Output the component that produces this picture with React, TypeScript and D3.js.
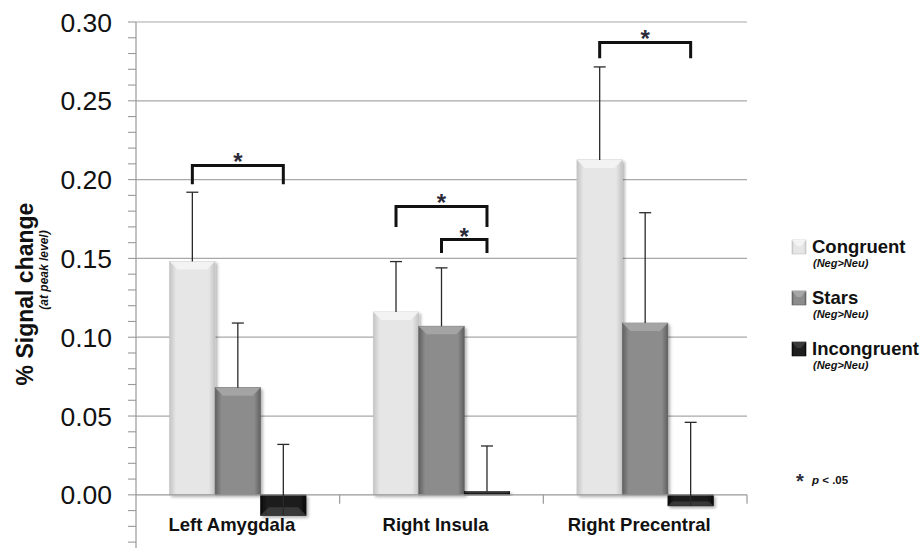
import * as d3 from 'd3';

const categories = ['Left Amygdala', 'Right Insula', 'Right Precentral'];
const seriesNames = ['Congruent', 'Stars', 'Incongruent'];
const congruent = [0.148, 0.116, 0.2125];
const stars = [0.068, 0.107, 0.109];
const incongruent = [-0.013, 0.002, -0.007];
const congruentSE = [0.044, 0.032, 0.059];
const starsSE = [0.041, 0.037, 0.070];
const incongruentSE = [0.045, 0.029, 0.053];
const yTicks = [0, 0.05, 0.1, 0.15, 0.2, 0.25, 0.3];

// significance brackets: category, from series, to series, top, leg end
const bracketCategory = [0, 1, 1, 2];
const bracketFrom = [0, 0, 1, 0];
const bracketTo = [2, 2, 2, 2];
const bracketTop = [0.209, 0.183, 0.162, 0.287];
const bracketLeg = [0.197, 0.170, 0.1535, 0.277];

const W = 922;
const H = 548;
const margin = { left: 136, right: 175, top: 22 };

const palette = [
  { mid: '#e6e6e6', edge: '#c4c4c4', top: '#f4f4f4' },
  { mid: '#8c8c8c', edge: '#606060', top: '#a6a6a6' },
  { mid: '#1e1e1e', edge: '#080808', top: '#3a3a3a' },
];

const FONT = '"Liberation Sans", Arial, Helvetica, sans-serif';

export default function App() {
  const values = [congruent, stars, incongruent];
  const errors = [congruentSE, starsSE, incongruentSE];

  const y = d3.scaleLinear().domain([-0.035, 0.3]).range([550, margin.top]);
  const x0 = d3.scaleBand().domain(categories).range([margin.left, W - margin.right]).padding(0);
  const bw = x0.bandwidth();
  const gw = bw * 0.67;
  const x1 = d3.scaleBand().domain(seriesNames).range([(bw - gw) / 2, (bw + gw) / 2]).padding(0);
  const barW = x1.bandwidth();

  const minor = d3.range(-3, 31).map((i) => i / 100);
  const axisX = margin.left;
  const xEnd = W - margin.right;
  const zero = y(0);

  const barShape = (bx: number, v: number, s: number, key: string) => {
    const yv = y(v);
    const top = Math.min(yv, zero);
    const h = Math.max(Math.abs(yv - zero), 2.5);
    const b = Math.min(8, h / 2.5, barW / 5);
    const c = palette[s];
    const up = v >= 0;
    const endY = up ? top : top + h;
    const innerY = up ? top + b : top + h - b;
    const face = `M${bx},${endY} L${bx + barW},${endY} L${bx + barW - b},${innerY} L${bx + b},${innerY} Z`;
    return (
      <g key={key} filter="url(#shadow)">
        <rect x={bx} y={top} width={barW} height={h} fill={`url(#grad${s})`} stroke={c.edge} strokeWidth={0.6} />
        <path d={face} fill={c.top} opacity={0.9} />
      </g>
    );
  };

  return (
    <svg width={W} height={H} style={{ position: 'absolute', left: 0, top: 0, background: '#fff' }} fontFamily={FONT}>
      <defs>
        {palette.map((c, i) => (
          <linearGradient key={i} id={`grad${i}`} x1="0" x2="1" y1="0" y2="0">
            <stop offset="0" stopColor={c.edge} />
            <stop offset="0.14" stopColor={c.mid} />
            <stop offset="0.86" stopColor={c.mid} />
            <stop offset="1" stopColor={c.edge} />
          </linearGradient>
        ))}
        <filter id="shadow" x="-20%" y="-20%" width="150%" height="150%">
          <feDropShadow dx="2" dy="2" stdDeviation="1.6" floodColor="#000" floodOpacity="0.3" />
        </filter>
      </defs>

      {/* gridlines */}
      {yTicks.filter((t) => t > 0).map((t) => (
        <line key={t} x1={axisX} x2={xEnd} y1={y(t)} y2={y(t)} stroke="#a8a8a8" strokeWidth={1.2} />
      ))}

      {/* y axis */}
      <line x1={axisX} x2={axisX} y1={y(0.3)} y2={H} stroke="#999" strokeWidth={1.2} />
      {minor.map((t) => (
        <line key={t} x1={axisX - 8} x2={axisX} y1={y(t)} y2={y(t)} stroke="#999" strokeWidth={1.1} />
      ))}
      {yTicks.map((t) => (
        <text key={t} x={112} y={y(t)} dy="0.36em" textAnchor="end" fontSize={26.5} fill="#111">
          {t.toFixed(2)}
        </text>
      ))}

      {/* bars */}
      {categories.map((cat, ci) =>
        seriesNames.map((sn, si) => barShape(x0(cat)! + x1(sn)!, values[si][ci], si, `${cat}-${sn}`))
      )}

      {/* x axis */}
      <line x1={axisX} x2={xEnd} y1={zero} y2={zero} stroke="#999" strokeWidth={1.2} />
      {categories.map((cat) => (
        <line key={cat} x1={x0(cat)! + bw} x2={x0(cat)! + bw} y1={zero} y2={zero + 9} stroke="#999" strokeWidth={1.2} />
      ))}

      {/* error bars */}
      {categories.map((cat, ci) =>
        seriesNames.map((sn, si) => {
          const cx = x0(cat)! + x1(sn)! + barW / 2;
          const v = values[si][ci];
          const e = v + errors[si][ci];
          return (
            <g key={`e-${cat}-${sn}`} stroke="#2a2a2a" strokeWidth={1.3}>
              <line x1={cx} x2={cx} y1={y(v)} y2={y(e)} />
              <line x1={cx - 6} x2={cx + 6} y1={y(e)} y2={y(e)} />
            </g>
          );
        })
      )}

      {/* category labels */}
      {categories.map((cat) => (
        <text key={cat} x={x0(cat)! + bw / 2 - 6} y={531} textAnchor="middle" fontSize={18.5} fontWeight="bold" fill="#111">
          {cat}
        </text>
      ))}

      {/* significance brackets */}
      {bracketCategory.map((ci, i) => {
        const cat = categories[ci];
        const xa = x0(cat)! + x1(seriesNames[bracketFrom[i]])! + barW / 2;
        const xb = x0(cat)! + x1(seriesNames[bracketTo[i]])! + barW / 2;
        const yt = y(bracketTop[i]);
        const yl = y(bracketLeg[i]);
        return (
          <g key={`b${i}`}>
            <path d={`M${xa},${yl} V${yt} H${xb} V${yl}`} fill="none" stroke="#111" strokeWidth={3} />
            <text x={(xa + xb) / 2} y={yt + 5} textAnchor="middle" fontSize={24} fontWeight="bold" fill="#2b2b3a">
              *
            </text>
          </g>
        );
      })}

      {/* y label */}
      <text transform="translate(33,294) rotate(-90)" textAnchor="middle" fontSize={23} fontWeight="bold" fill="#111">
        % Signal change
      </text>
      <text transform="translate(48,270) rotate(-90)" textAnchor="middle" fontSize={12} fontWeight="bold" fontStyle="italic" fill="#111">
        (at peak level)
      </text>

      {/* legend */}
      {seriesNames.map((sn, i) => {
        const ly = 240 + i * 51;
        const c = palette[i];
        return (
          <g key={sn}>
            <rect x={792} y={ly} width={14} height={14} fill={`url(#grad${i})`} stroke={c.edge} strokeWidth={0.6} />
            <path d={`M792,${ly} L806,${ly} L801,${ly + 6} L797,${ly + 6} Z`} fill={c.top} />
            <text x={812} y={ly + 13} fontSize={18.5} fontWeight="bold" fill="#111">{sn}</text>
            <text x={813} y={ly + 27} fontSize={11} fontWeight="bold" fontStyle="italic" fill="#111">(Neg&gt;Neu)</text>
          </g>
        );
      })}
      <text x={800} y={488} textAnchor="middle" fontSize={20} fontWeight="bold" fill="#2b2b3a">*</text>
      <text x={812} y={484} fontSize={11.5} fontWeight="bold" fill="#111">
        <tspan fontStyle="italic">p</tspan> &lt; .05
      </text>
    </svg>
  );
}
